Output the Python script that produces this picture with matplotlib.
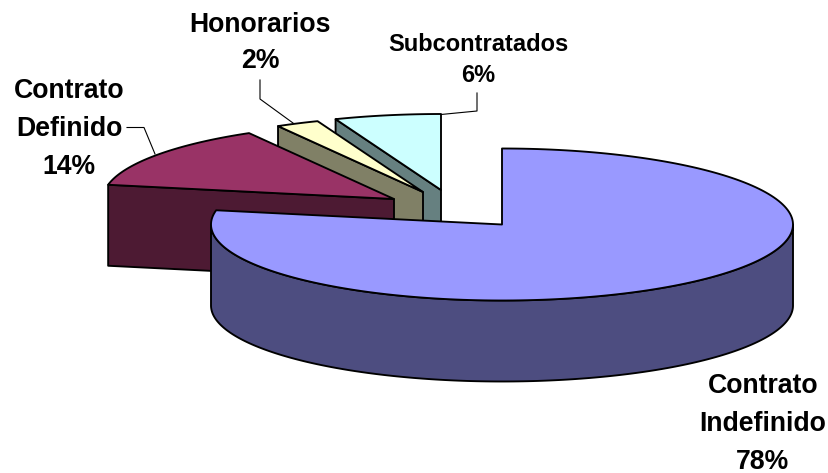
import numpy as np
import matplotlib
matplotlib.use("Agg")
import matplotlib.pyplot as plt
from matplotlib.patches import Polygon

# Data
categories = ["Contrato\nIndefinido", "Contrato\nDefinido", "Honorarios", "Subcontratados"]
shares = [78.0, 13.7, 2.4, 5.9]

# Style / layout
top_colors = ["#9999FF", "#993366", "#FFFFCC", "#CCFFFF"]
wall_colors = ["#4D4D80", "#4D1A33", "#808066", "#668080"]
apexes = [(502, 224.5), (394, 199), (423, 192), (441, 190)]
RX, RY, DEPTH = 291, 76, 81
LW = 1.35
# x, y, font size, line spacing
label_pos = [(763, 423.5, 19.2, 1.6), (69, 128.5, 19.2, 1.6), (260, 42.5, 19.2, 1.5), (478, 60, 17.0, 1.47)]

fig = plt.figure(figsize=(8.29, 4.73), dpi=100)
ax = fig.add_axes([0, 0, 1, 1])
ax.set_xlim(0, 829)
ax.set_ylim(473, 0)
ax.axis("off")

def rim(c, t0, t1, dy=0, n=200):
    t = np.radians(np.linspace(t0, t1, n))
    return np.column_stack([c[0] + RX * np.sin(t), c[1] + dy - RY * np.cos(t)])

edges = np.concatenate([[0], np.cumsum(shares)]) / sum(shares) * 360

def draw_slice(i, z):
    c = apexes[i]
    t0, t1 = edges[i], edges[i + 1]
    kw = dict(closed=True, edgecolor="black", linewidth=LW, joinstyle="round", zorder=z)
    if i > 0:
        a = rim(c, t0, t0, n=1)[0]
        wall = [a, c, (c[0], c[1] + DEPTH), (a[0], a[1] + DEPTH)]
        ax.add_patch(Polygon(wall, facecolor=wall_colors[i], **kw))
    else:
        top = rim(c, 90, 270)
        bottom = rim(c, 270, 90, dy=DEPTH)
        ax.add_patch(Polygon(np.vstack([top, bottom]), facecolor=wall_colors[i], **kw))
    pts = np.vstack([[c], rim(c, t0, t1)])
    ax.add_patch(Polygon(pts, facecolor=top_colors[i], **kw))

for z, i in enumerate([3, 2, 1, 0]):
    draw_slice(i, 2 + z)

for name, val, (x, y, fs, ls) in zip(categories, shares, label_pos):
    ax.text(x, y, f"{name}\n{round(val)}%", ha="center", va="center", fontsize=fs,
            fontweight="bold", family="Liberation Sans", color="black", linespacing=ls, zorder=10)

leaders = [
    ([127, 144, 155], [127.5, 127.5, 154]),
    ([260, 260, 293], [80, 99, 123]),
    ([477, 477, 441], [93, 111, 114.5]),
]
for xs, ys in leaders:
    ax.plot(xs, ys, color="black", lw=0.8, zorder=1)

fig.savefig("out.png", dpi=100)
